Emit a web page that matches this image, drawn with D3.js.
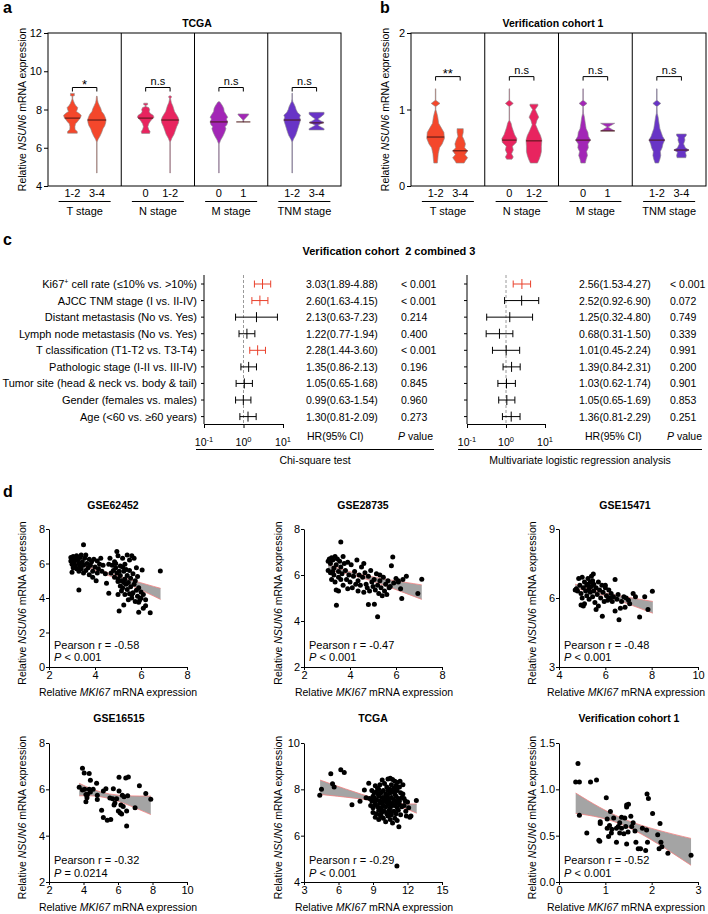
<!DOCTYPE html>
<html><head><meta charset="utf-8">
<script src="https://cdn.jsdelivr.net/npm/d3@7"></script>
<style>body{margin:0;background:#fff}svg{display:block}</style>
</head><body><script>
// ---------------- DATA ----------------
const violinGroups = ["T stage","N stage","M stage","TNM stage"];
const violinCats = [["1-2","3-4"],["0","1-2"],["0","1"],["1-2","3-4"]];
const tcgaTicks = [4,6,8,10,12];
const tcgaSig = ["*","n.s","n.s","n.s"];
const tcgaMedians = [7.55,7.45,7.55,7.45,7.35,7.35,7.45,7.3];
// violin profiles: [value, relative density]
const tcgaT12 = [[6.76,0.55],[6.85,0.55],[6.95,0.3],[7.1,0.28],[7.25,0.35],[7.35,0.55],[7.5,0.8],[7.6,0.95],[7.7,1.0],[7.8,0.75],[7.9,0.45],[8.0,0.55],[8.1,0.6],[8.2,0.4],[8.3,0.25],[8.45,0.12],[8.55,0.04],[8.7,0.04],[8.72,0.22],[8.84,0.22]];
const tcgaT34 = [[4.68,0.03],[6.3,0.03],[6.45,0.15],[6.6,0.35],[6.8,0.55],[7.0,0.7],[7.15,0.9],[7.3,1.0],[7.45,1.05],[7.6,0.95],[7.75,0.8],[7.9,0.55],[8.05,0.45],[8.2,0.3],[8.35,0.15],[8.5,0.08],[8.65,0.05],[8.7,0.03]];
const tcgaN0 = [[6.75,0.45],[6.85,0.5],[6.95,0.35],[7.1,0.25],[7.25,0.35],[7.4,0.55],[7.5,0.75],[7.6,0.95],[7.7,0.85],[7.8,0.5],[7.9,0.4],[8.0,0.45],[8.1,0.35],[8.15,0.05],[8.22,0.04],[8.25,0.22],[8.33,0.22]];
const tcgaN12 = [[4.68,0.03],[6.3,0.03],[6.5,0.2],[6.7,0.45],[6.9,0.6],[7.1,0.75],[7.3,0.95],[7.45,1.0],[7.6,0.9],[7.75,0.7],[7.9,0.5],[8.05,0.4],[8.2,0.3],[8.35,0.15],[8.5,0.08],[8.6,0.05],[8.66,0.2],[8.72,0.03]];
const tcgaM0 = [[4.68,0.03],[6.2,0.03],[6.4,0.2],[6.6,0.45],[6.8,0.65],[7.0,0.8],[7.1,0.7],[7.2,0.9],[7.35,1.0],[7.5,0.85],[7.6,1.0],[7.75,0.8],[7.9,0.6],[8.05,0.55],[8.2,0.4],[8.3,0.25],[8.4,0.1]];
const tcgaM1 = [[7.35,0.05],[7.45,0.05],[7.6,0.35],[7.72,0.6],[7.77,0.6]];
const tcgaTNM12 = [[4.68,0.03],[6.3,0.03],[6.45,0.15],[6.65,0.4],[6.85,0.55],[7.0,0.65],[7.15,0.75],[7.3,0.85],[7.45,0.95],[7.6,0.85],[7.7,0.95],[7.85,0.6],[8.0,0.45],[8.15,0.35],[8.3,0.2],[8.4,0.08],[8.55,0.03],[8.85,0.03]];
const tcgaTNM34 = [[6.93,0.85],[7.0,0.85],[7.1,0.45],[7.18,0.15],[7.26,0.5],[7.33,0.85],[7.4,0.5],[7.5,0.15],[7.6,0.45],[7.75,0.85],[7.85,0.85]];

const cohortTicks = [0,1,2];
const cohortSig = ["**","n.s","n.s","n.s"];
const cohortMedians = [0.64,0.46,0.6,0.59,0.6,0.72,0.6,0.47];
const cohT12 = [[0.3,0.2],[0.35,0.25],[0.42,0.3],[0.5,0.45],[0.55,0.75],[0.62,1.0],[0.7,0.95],[0.76,0.65],[0.82,0.35],[0.9,0.25],[0.95,0.15],[1.0,0.03],[1.04,0.03],[1.08,0.5],[1.12,0.03],[1.27,0.03]];
const cohT34 = [[0.3,0.45],[0.33,0.6],[0.37,0.85],[0.41,0.55],[0.46,0.85],[0.5,0.5],[0.55,0.6],[0.6,0.45],[0.65,0.25],[0.7,0.35],[0.75,0.35]];
const cohN0 = [[0.35,0.3],[0.38,0.45],[0.42,0.25],[0.47,0.45],[0.52,0.35],[0.57,0.8],[0.62,0.85],[0.67,0.6],[0.72,0.45],[0.77,0.3],[0.82,0.2],[0.86,0.03],[1.04,0.03],[1.08,0.45],[1.12,0.03],[1.27,0.03]];
const cohN12 = [[0.3,0.4],[0.35,0.6],[0.4,0.75],[0.45,0.85],[0.52,0.85],[0.6,0.9],[0.66,0.75],[0.72,0.5],[0.8,0.2],[0.86,0.35],[0.9,0.55],[0.95,0.35],[1.0,0.15],[1.05,0.45],[1.07,0.45]];
const cohM0 = [[0.3,0.25],[0.35,0.35],[0.4,0.5],[0.45,0.4],[0.5,0.6],[0.55,0.55],[0.6,0.85],[0.65,0.6],[0.7,0.55],[0.75,0.35],[0.82,0.25],[0.9,0.15],[0.95,0.05],[1.04,0.03],[1.08,0.45],[1.12,0.03],[1.27,0.03]];
const cohM1 = [[0.72,0.8],[0.74,0.5],[0.77,0.05],[0.8,0.5],[0.82,0.8]];
const cohTNM12 = [[0.3,0.2],[0.35,0.35],[0.4,0.45],[0.45,0.4],[0.5,0.6],[0.55,0.7],[0.6,0.9],[0.65,0.65],[0.7,0.5],[0.75,0.35],[0.82,0.25],[0.9,0.15],[0.95,0.05],[1.04,0.03],[1.08,0.45],[1.12,0.03],[1.27,0.03]];
const cohTNM34 = [[0.37,0.5],[0.4,0.55],[0.44,0.45],[0.47,0.85],[0.5,0.45],[0.55,0.25],[0.6,0.4],[0.63,0.35],[0.66,0.55],[0.68,0.55]];

const forestLabels = ["Ki67+ cell rate (≤10% vs. >10%)","AJCC TNM stage (I vs. II-IV)","Distant metastasis (No vs. Yes)","Lymph node metastasis (No vs. Yes)","T classification (T1-T2 vs. T3-T4)","Pathologic stage (I-II vs. III-IV)","Tumor site (head & neck vs. body & tail)","Gender (females vs. males)","Age (<60 vs. ≥60 years)"];
const chiHR = [3.03,2.60,2.13,1.22,2.28,1.35,1.05,0.99,1.30];
const chiLo = [1.89,1.63,0.63,0.77,1.44,0.86,0.65,0.63,0.81];
const chiHi = [4.88,4.15,7.23,1.94,3.60,2.13,1.68,1.54,2.09];
const chiP = ["< 0.001","< 0.001","0.214","0.400","< 0.001","0.196","0.845","0.960","0.273"];
const mlrHR = [2.56,2.52,1.25,0.68,1.01,1.39,1.03,1.05,1.36];
const mlrLo = [1.53,0.92,0.32,0.31,0.45,0.84,0.62,0.65,0.81];
const mlrHi = [4.27,6.90,4.80,1.50,2.24,2.31,1.74,1.69,2.29];
const mlrP = ["< 0.001","0.072","0.749","0.339","0.991","0.200","0.901","0.853","0.251"];
const forestTicks = [0.1,1,10];
const forestTickExp = ["-1","0","1"];

const scatterTitles = ["GSE62452","GSE28735","GSE15471","GSE16515","TCGA","Verification cohort 1"];
const scatterXDomains = [[2,8],[2,8],[4,10],[2,10],[3,15],[0,3]];
const scatterXTicks = [[2,4,6,8],[2,4,6,8],[4,6,8,10],[2,4,6,8,10],[3,6,9,12,15],[0,1,2,3]];
const scatterYDomains = [[0,8],[2,8],[3,9],[2,8],[4,10],[0,1.5]];
const scatterYTicks = [[0,2,4,6,8],[2,4,6,8],[3,6,9],[2,4,6,8],[4,6,8,10],[0,0.5,1,1.5]];
const pearsonR = ["-0.58","-0.47","-0.48","-0.32","-0.29","-0.52"];
const pearsonP = ["< 0.001","< 0.001","< 0.001","= 0.0214","< 0.001","< 0.001"];

const gse62452Pts = [[2.95,6.35],[2.95,6.15],[3.0,5.95],[3.05,6.4],[3.1,6.25],[3.1,6.05],[3.15,5.85],[3.2,6.45],[3.2,5.7],[3.25,6.2],[3.3,6.0],[3.3,5.55],[3.35,6.35],[3.35,5.85],[3.4,6.5],[3.4,5.7],[3.45,6.1],[3.5,7.08],[3.5,5.9],[3.5,5.45],[3.55,6.3],[3.6,5.6],[3.65,6.0],[3.7,5.75],[3.75,6.25],[3.75,5.35],[3.8,5.9],[3.85,6.1],[3.9,5.55],[3.9,5.2],[3.95,6.25],[4.0,5.8],[4.05,5.0],[4.1,6.15],[4.1,5.45],[4.15,5.7],[4.2,5.95],[4.25,6.3],[4.3,5.55],[4.35,5.9],[3.3,4.47],[4.5,4.85],[4.45,5.4],[4.6,4.27],[3.05,5.75],[3.6,6.5],[3.0,5.5],
[4.75,5.9],[4.8,5.6],[4.85,6.1],[4.85,5.2],[4.9,6.0],[4.9,5.75],[4.95,5.45],[4.95,6.7],[5.0,5.1],[5.0,4.95],[5.0,6.45],[5.05,5.55],[5.05,3.24],[5.1,5.3],[5.1,4.7],[5.1,5.85],[5.15,4.4],[5.15,5.0],[5.2,6.3],[5.2,4.6],[5.25,5.55],[5.25,3.6],[5.3,5.1],[5.3,4.2],[5.3,5.95],[5.35,4.8],[5.4,6.5],[5.4,5.3],[5.4,4.5],[5.45,4.9],[5.45,3.9],[5.5,6.2],[5.5,5.6],[5.5,4.25],[5.55,4.65],[5.55,5.15],[5.6,6.45],[5.6,4.0],[5.65,5.4],[5.65,4.3],[5.7,4.8],[5.7,6.3],[5.75,3.8],[5.75,5.0],[5.8,4.45],[5.8,5.75],[5.85,4.1],[5.9,3.75],[5.9,3.17],[5.9,4.6],[5.95,3.9],[6.0,4.35],[6.0,4.0],[6.05,5.63],[6.1,3.4],[6.1,4.2],[6.2,3.55],[6.2,3.9],[6.4,3.15],[6.84,5.57],[4.6,5.95],[4.7,5.45],[4.65,6.3],[5.35,5.65],[5.2,5.8],[5.0,4.2],[5.25,4.9],[5.6,4.2],[5.85,5.25]];
const gse62452Band = [[2.9,6.12,6.33],[4.6,5.3,5.45],[6.85,3.92,4.56]];

const gse28735Pts = [[3.05,6.2],[3.05,6.6],[3.1,6.7],[3.15,6.5],[3.15,6.1],[3.2,6.75],[3.2,5.8],[3.25,6.65],[3.3,6.3],[3.3,6.0],[3.35,6.8],[3.35,5.7],[3.4,6.45],[3.4,5.35],[3.41,4.69],[3.45,6.7],[3.5,6.15],[3.5,5.9],[3.55,6.6],[3.6,7.43],[3.6,6.35],[3.6,5.8],[3.65,6.05],[3.7,6.8],[3.7,5.55],[3.75,6.5],[3.8,6.2],[3.85,5.8],[3.9,6.55],[3.95,6.0],[4.0,5.7],[4.05,6.45],[4.1,5.45],[4.15,5.95],[4.2,6.15],[4.25,5.6],[4.3,6.65],[4.35,5.75],[4.35,5.3],[4.4,6.0],[4.45,5.55],[4.5,6.35],[4.55,5.9],[4.6,5.25],[4.65,6.1],[4.7,5.6],[4.75,5.45],[4.8,4.72],[4.8,5.95],[4.85,5.3],[4.9,6.2],[4.95,5.7],[5.0,5.5],[5.05,5.8],[5.06,4.73],[5.1,5.35],[5.15,6.05],[5.2,4.18],[5.2,5.55],[5.25,5.2],[5.3,5.75],[5.35,5.45],[5.4,5.1],[5.45,5.9],[5.5,5.3],[5.55,5.6],[5.6,5.15],[5.65,5.75],[5.7,5.45],[5.75,5.5],[5.8,6.4],[5.86,6.78],[5.9,5.65],[6.0,5.85],[6.1,5.7],[6.2,5.4],[6.25,4.98],[6.3,5.8],[6.45,5.95],[6.95,5.2],[7.12,5.81],[3.9,5.4],[4.6,6.5],[5.3,6.0],[3.25,6.15],[3.5,5.3],[6.1,5.75]];
const gse28735Band = [[3.05,6.2,6.45],[4.6,5.85,6.0],[7.12,4.94,5.57]];

const gse15471Pts = [[4.75,6.4],[4.8,6.3],[4.85,6.85],[4.9,6.55],[4.95,5.7],[4.95,6.2],[5.0,6.9],[5.0,6.0],[5.05,6.45],[5.1,6.7],[5.1,5.75],[5.15,6.3],[5.2,6.55],[5.2,6.1],[5.25,6.85],[5.25,6.6],[5.3,6.4],[5.3,5.95],[5.35,6.7],[5.35,6.25],[5.4,6.95],[5.4,6.5],[5.45,6.05],[5.48,7.04],[5.5,6.6],[5.5,6.3],[5.55,5.8],[5.6,6.45],[5.65,6.15],[5.7,6.7],[5.7,5.65],[5.75,6.35],[5.8,6.0],[5.85,6.55],[5.87,5.21],[5.9,6.25],[5.95,5.85],[6.0,6.45],[6.05,6.1],[6.1,5.9],[6.15,6.35],[6.2,6.0],[6.25,6.2],[6.3,5.85],[6.35,6.05],[6.42,6.8],[6.42,5.43],[6.5,5.95],[6.55,6.15],[6.59,5.05],[6.65,5.55],[6.7,5.85],[6.8,6.05],[6.85,5.6],[6.9,6.0],[7.0,5.9],[7.05,5.75],[7.2,6.2],[7.3,6.05],[7.48,5.17],[7.7,6.05],[7.84,5.5],[8.03,6.29],[5.6,5.5],[5.05,5.65],[6.0,6.55],[5.45,6.75],[4.7,6.35]];
const gse15471Band = [[4.7,6.4,6.6],[5.9,6.12,6.24],[8.05,5.34,5.85]];

const gse16515Pts = [[3.94,6.91],[4.04,6.7],[4.33,6.68],[4.4,6.39],[3.75,6.09],[4.07,6.0],[4.33,6.0],[4.76,6.26],[4.14,5.46],[5.05,5.1],[5.15,4.78],[5.38,4.67],[5.58,4.7],[6.06,6.52],[6.45,6.49],[6.6,6.53],[7.24,6.16],[7.61,5.82],[7.9,5.57],[6.99,5.2],[6.5,4.42],[5.73,6.03],[5.92,5.59],[6.06,5.93],[6.25,5.74],[6.35,5.68],[6.17,5.32],[6.02,5.07],[5.77,5.32],[6.5,5.07],[4.4,5.88],[4.23,5.78],[4.56,6.0],[4.8,5.75],[4.8,5.56],[5.3,6.03],[5.15,5.93],[5.53,5.63],[5.82,5.41],[6.12,4.99],[6.21,4.93],[6.56,5.72],[4.14,5.78],[3.94,5.97],[4.2,5.64],[5.69,5.59],[6.3,5.26]];
const gse16515Band = [[3.75,5.72,6.26],[5.5,5.6,5.8],[7.9,4.91,5.71]];

const tcgaScatterPts = [[4.37,7.74],[4.52,8.0],[5.33,8.67],[5.48,8.24],[5.62,8.1],[6.2,8.84],[6.5,8.73],[7.17,7.33],[7.87,7.49],[8.25,7.97],[8.4,7.64],[8.63,8.26],[11.08,4.69],[12.77,7.52],[11.25,6.39],
[10.3,8.45],[10.5,8.48],[10.7,8.42],[10.9,8.35],[11.1,8.3],[9.8,8.4],[11.35,8.35],[11.6,8.2],
[9.2,8.15],[9.6,8.2],[10.0,8.25],[10.2,8.1],[10.6,8.2],[11.0,8.15],[11.3,8.1],[9.4,8.05],[10.8,8.05],
[8.9,7.95],[9.1,7.85],[9.3,7.9],[9.5,8.0],[9.7,7.85],[9.9,7.95],[10.1,7.8],[10.3,7.95],[10.5,7.85],[10.7,7.9],[10.9,7.8],[11.1,7.95],[11.4,7.85],[11.6,7.8],[9.0,7.7],[11.7,7.6],
[8.7,7.6],[8.9,7.5],[9.1,7.65],[9.3,7.55],[9.5,7.7],[9.6,7.5],[9.8,7.65],[10.0,7.55],[10.1,7.7],[10.3,7.6],[10.4,7.5],[10.6,7.65],[10.8,7.55],[11.0,7.7],[11.2,7.6],[11.3,7.5],[11.5,7.65],[11.8,7.5],[12.0,7.45],[9.2,7.4],[10.2,7.45],
[8.8,7.3],[9.0,7.2],[9.2,7.35],[9.4,7.25],[9.6,7.4],[9.7,7.2],[9.9,7.3],[10.1,7.25],[10.3,7.35],[10.5,7.2],[10.7,7.4],[10.9,7.3],[11.1,7.2],[11.3,7.35],[11.5,7.25],[11.7,7.3],[12.1,7.2],[9.5,7.1],[10.0,7.05],
[9.0,7.0],[9.3,6.95],[9.6,6.9],[9.8,7.1],[10.2,6.95],[10.4,7.1],[10.6,6.9],[10.8,7.05],[11.0,6.95],[11.2,7.1],[11.4,6.9],[11.9,6.85],[12.2,6.8],[10.3,6.85],[11.85,7.05],[12.3,6.85],
[9.2,6.8],[9.5,6.7],[9.9,6.75],[10.1,6.6],[10.5,6.7],[10.7,6.55],[10.9,6.75],[11.1,6.65],[9.7,6.85],
[9.45,7.8],[9.85,7.45],[10.25,7.75],[10.65,7.3],[11.05,7.45],[10.45,8.0],[9.75,7.0],[10.95,8.0],[9.15,7.55],[10.55,7.0]];
const tcgaScatterBand = [[4.4,7.78,8.4],[9.8,7.44,7.53],[12.8,6.97,7.37]];

const cohortPts = [[0.41,1.28],[0.36,1.08],[0.44,1.08],[0.68,1.08],[0.81,1.1],[0.44,0.72],[0.6,0.53],[0.86,0.45],[0.88,0.44],[0.89,0.63],[0.89,0.65],[1.02,0.91],[1.04,0.68],[1.04,0.58],[1.11,0.76],[1.09,0.61],[1.07,0.49],[1.13,0.53],[1.18,0.69],[1.14,0.57],[1.24,0.43],[1.28,0.6],[1.31,0.64],[1.35,0.7],[1.4,0.52],[1.42,0.69],[1.46,0.81],[1.46,0.83],[1.5,0.84],[1.44,0.6],[1.46,0.41],[1.55,0.71],[1.57,0.6],[1.6,0.64],[1.64,0.55],[1.66,0.43],[1.71,0.36],[1.76,0.36],[1.8,0.58],[1.9,0.95],[1.93,0.9],[1.89,0.56],[1.91,0.43],[1.87,0.34],[2.02,0.74],[2.13,0.51],[2.18,0.63],[2.2,0.43],[2.22,0.38],[2.16,0.36],[2.35,0.31],[2.85,0.29],[1.24,0.58],[1.35,0.58],[1.49,0.54],[1.31,0.53]];
const cohortBand = [[0.36,0.74,0.96],[1.45,0.6,0.67],[2.85,0.18,0.47]];

// ---------------- STYLE / SETUP ----------------
const FONT = '"Liberation Sans", Arial, Helvetica, sans-serif';
const groupColors = ["#f4472b","#e8245f","#a226b6","#6834c6"];
const RED = "#e9402b";
const svg = d3.select("body").append("svg").attr("width",708).attr("height",914)
  .style("font-family",FONT);

function rich(t, parts){ parts.forEach(p=>{ const s=t.append("tspan").text(p[0]); if(p[1]) s.attr("font-style","italic"); }); return t; }
function txt(x,y,s,size,anchor,weight){ return svg.append("text").attr("x",x).attr("y",y).attr("font-size",size).attr("text-anchor",anchor||"start").attr("font-weight",weight||null).attr("fill","#000").text(s); }
function vlabel(xc,yc,parts,size){ const t=svg.append("text").attr("transform",`translate(${xc+4},${yc}) rotate(-90)`).attr("text-anchor","middle").attr("font-size",size); rich(t,parts); return t; }
function densAt(prof,v){ for(let i=0;i<prof.length-1;i++){const a=prof[i],b=prof[i+1]; if(v>=a[0]&&v<=b[0]) return a[1]+(b[1]-a[1])*(v-a[0])/((b[0]-a[0])||1);} return 0; }

// panel letters
txt(3,13,"a",16,"start","bold");
txt(380,13,"b",16,"start","bold");
txt(3,245,"c",16,"start","bold");
txt(3,497,"d",16,"start","bold");

// ---------------- VIOLIN PANELS ----------------
function violinPanel(o){
  const g = svg.append("g");
  const y = d3.scaleLinear().domain(o.domain).range([o.y1,o.y0]);
  const gx = d3.scaleBand().domain(violinGroups).range([o.x0,o.x1]);
  const w = d3.scaleLinear().domain([0,1]).range([0,8.8]);
  const ax = g.append("g").attr("transform",`translate(${o.x0},0)`)
    .call(d3.axisLeft(y).tickValues(o.ticks).tickSize(4).tickPadding(2).tickFormat(d3.format("d")));
  ax.select(".domain").remove();
  ax.selectAll("line").attr("stroke","#000");
  ax.selectAll("text").attr("font-size",11).attr("font-family",FONT).attr("fill","#000");
  violinGroups.forEach((grp,i)=>{
    const bx = gx(grp), bw = gx.bandwidth();
    if(i>0) g.append("line").attr("x1",bx).attr("x2",bx).attr("y1",o.y0).attr("y2",o.y1).attr("stroke","#000");
    const px = d3.scalePoint().domain(violinCats[i]).range([bx,bx+bw]).padding(1);
    violinCats[i].forEach((c,j)=>{
      const k=i*2+j, prof=o.profiles[k], cx=px(c);
      const area = d3.area().y(d=>y(d[0])).x0(d=>cx-w(d[1])).x1(d=>cx+w(d[1]));
      g.append("path").attr("d",area(prof)).attr("fill",groupColors[i]).attr("stroke","#8c8c8c").attr("stroke-width",0.6);
      const m=o.medians[k], hw=w(Math.max(densAt(prof,m),0.8));
      g.append("line").attr("x1",cx-hw).attr("x2",cx+hw).attr("y1",y(m)).attr("y2",y(m)).attr("stroke","#4a1515").attr("stroke-width",1);
      g.append("text").attr("x",cx).attr("y",o.y1+11).attr("text-anchor","middle").attr("font-size",11).text(c);
    });
    const cm = bx+bw/2;
    g.append("line").attr("x1",cm-26).attr("x2",cm+26).attr("y1",o.y1+15.5).attr("y2",o.y1+15.5).attr("stroke","#000");
    g.append("text").attr("x",cm).attr("y",o.y1+29).attr("text-anchor","middle").attr("font-size",11).text(grp);
    const c1=px(violinCats[i][0]), c2=px(violinCats[i][1]), by=y(o.bracketVal);
    g.append("path").attr("d",`M${c1},${by+4}V${by}H${c2}V${by+4}`).attr("fill","none").attr("stroke","#000");
    g.append("text").attr("x",(c1+c2)/2).attr("y",by-(o.sig[i].startsWith("*")?-1:3)).attr("text-anchor","middle")
      .attr("font-size",o.sig[i].startsWith("*")?13:11).text(o.sig[i]);
  });
  g.append("rect").attr("x",o.x0).attr("y",o.y0).attr("width",o.x1-o.x0).attr("height",o.y1-o.y0).attr("fill","none").attr("stroke","#000");
  txt(o.titleX,27,o.title,10.5,"middle","bold");
  vlabel(o.ylabX,(o.y0+o.y1)/2,[["Relative ",0],["NSUN6",1],[" mRNA expression",0]],10.5);
}
violinPanel({x0:48,x1:341,y0:33,y1:186,domain:[4,12],ticks:tcgaTicks,bracketVal:9.15,sig:tcgaSig,
  profiles:[tcgaT12,tcgaT34,tcgaN0,tcgaN12,tcgaM0,tcgaM1,tcgaTNM12,tcgaTNM34],medians:tcgaMedians,
  title:"TCGA",titleX:197,ylabX:22});
violinPanel({x0:411,x1:706,y0:33,y1:186,domain:[0,2],ticks:cohortTicks,bracketVal:1.43,sig:cohortSig,
  profiles:[cohT12,cohT34,cohN0,cohN12,cohM0,cohM1,cohTNM12,cohTNM34],medians:cohortMedians,
  title:"Verification cohort 1",titleX:553,ylabX:385});

// ---------------- FOREST PANELS ----------------
txt(389,255,"Verification cohort  2 combined 3",11,"middle","bold").style("white-space","pre");
const fy = d3.scalePoint().domain(forestLabels).range([284,416.6]);
forestLabels.forEach(l=>{
  const t = svg.append("text").attr("x",197).attr("y",fy(l)+4).attr("text-anchor","end").attr("font-size",11);
  if(l.startsWith("Ki67+")){
    t.append("tspan").text("Ki67");
    t.append("tspan").attr("font-size",7).attr("dy",-4).text("+");
    t.append("tspan").attr("dy",4).text(l.slice(5));
  } else t.text(l);
});
const fmt2 = d3.format(".2f");
function forest(o){
  const g = svg.append("g");
  const x = d3.scaleLog().domain([0.1,10]).range([o.ax0,o.ax1]);
  g.append("line").attr("x1",o.ax0).attr("x2",o.ax0).attr("y1",275).attr("y2",424).attr("stroke","#000");
  forestLabels.forEach(l=>g.append("line").attr("x1",o.ax0-3).attr("x2",o.ax0).attr("y1",fy(l)).attr("y2",fy(l)).attr("stroke","#000"));
  const xa = g.append("g").attr("transform","translate(0,424)")
    .call(d3.axisBottom(x).tickValues(forestTicks).tickSize(4).tickSizeOuter(0).tickFormat(""));
  xa.selectAll("line,path").attr("stroke","#000");
  forestTicks.forEach((v,i)=>{
    const t = g.append("text").attr("x",x(v)).attr("y",446).attr("text-anchor","middle").attr("font-size",10.5);
    t.append("tspan").text("10");
    t.append("tspan").attr("dy",-4).attr("font-size",7.5).text(forestTickExp[i]);
  });
  g.append("line").attr("x1",x(1)).attr("x2",x(1)).attr("y1",275).attr("y2",424).attr("stroke","#9a9a9a").attr("stroke-dasharray","3,2");
  forestLabels.forEach((l,i)=>{
    const yy=fy(l), col=o.p[i]==="< 0.001"?RED:"#000";
    g.append("line").attr("x1",x(o.lo[i])).attr("x2",x(o.hi[i])).attr("y1",yy).attr("y2",yy).attr("stroke",col);
    [o.lo[i],o.hi[i]].forEach(v=>g.append("line").attr("x1",x(v)).attr("x2",x(v)).attr("y1",yy-3.5).attr("y2",yy+3.5).attr("stroke",col));
    g.append("line").attr("x1",x(o.hr[i])).attr("x2",x(o.hr[i])).attr("y1",yy-5).attr("y2",yy+5).attr("stroke",col);
    g.append("text").attr("x",o.hrX).attr("y",yy+4).attr("font-size",10.5).text(`${fmt2(o.hr[i])}(${fmt2(o.lo[i])}-${fmt2(o.hi[i])})`);
    g.append("text").attr("x",o.pX).attr("y",yy+4).attr("font-size",10.5).text(o.p[i]);
  });
  g.append("text").attr("x",o.hrHeadX).attr("y",440).attr("font-size",10.5).text("HR(95% CI)");
  rich(g.append("text").attr("x",o.pHeadX).attr("y",440).attr("font-size",10.5),[["P",1],[" value",0]]);
  g.append("line").attr("x1",o.lx0).attr("x2",o.lx1).attr("y1",449.5).attr("y2",449.5).attr("stroke","#000");
  g.append("text").attr("x",(o.lx0+o.lx1)/2).attr("y",464).attr("text-anchor","middle").attr("font-size",10.5).text(o.caption);
}
forest({ax0:204,ax1:283,hr:chiHR,lo:chiLo,hi:chiHi,p:chiP,hrX:306,pX:401,hrHeadX:307,pHeadX:398,lx0:196,lx1:434,caption:"Chi-square test"});
forest({ax0:467,ax1:545,hr:mlrHR,lo:mlrLo,hi:mlrHi,p:mlrP,hrX:579,pX:670,hrHeadX:585,pHeadX:667,lx0:458,lx1:702,caption:"Multivariate logistic regression analysis"});

// ---------------- SCATTER PANELS ----------------
const scatterPts = [gse62452Pts,gse28735Pts,gse15471Pts,gse16515Pts,tcgaScatterPts,cohortPts];
const scatterBands = [gse62452Band,gse28735Band,gse15471Band,gse16515Band,tcgaScatterBand,cohortBand];
const colLayout = [{px0:49,px1:187,ylab:22,stat:54,xlab:118},{px0:304,px1:442,ylab:278,stat:309,xlab:374},{px0:559,px1:698,ylab:532,stat:564,xlab:626}];
const rowLayout = [{py0:529,py1:667,title:509,s1:649,s2:661,xlab:696},{py0:743,py1:882,title:722,s1:864,s2:877,xlab:911}];
const titleXs = [113,363,625,119,373,629];
scatterTitles.forEach((title,k)=>{
  const c=colLayout[k%3], r=rowLayout[Math.floor(k/3)];
  const g = svg.append("g");
  const x = d3.scaleLinear().domain(scatterXDomains[k]).range([c.px0,c.px1]);
  const y = d3.scaleLinear().domain(scatterYDomains[k]).range([r.py1,r.py0]);
  const band = scatterBands[k];
  g.append("path").attr("d",d3.area().x(d=>x(d[0])).y0(d=>y(d[1])).y1(d=>y(d[2])).curve(d3.curveNatural)(band)).attr("fill","#a4a4a4");
  [1,2].forEach(j=>g.append("path").attr("d",d3.line().x(d=>x(d[0])).y(d=>y(d[j])).curve(d3.curveNatural)(band)).attr("fill","none").attr("stroke","#f28080").attr("stroke-width",0.8));
  g.selectAll("circle").data(scatterPts[k]).join("circle").attr("cx",d=>x(d[0])).attr("cy",d=>y(d[1])).attr("r",2.5).attr("fill","#000");
  const yf = k===5?d3.format(".1f"):d3.format("d");
  const ay = g.append("g").attr("transform",`translate(${c.px0},0)`).call(d3.axisLeft(y).tickValues(scatterYTicks[k]).tickSize(3).tickSizeOuter(0).tickPadding(1).tickFormat(yf));
  const axx = g.append("g").attr("transform",`translate(0,${r.py1})`).call(d3.axisBottom(x).tickValues(scatterXTicks[k]).tickSize(3).tickSizeOuter(0).tickPadding(1).tickFormat(d3.format("d")));
  [ay,axx].forEach(a=>{a.selectAll("line,path").attr("stroke","#000"); a.selectAll("text").attr("font-size",11).attr("font-family",FONT).attr("fill","#000");});
  txt(titleXs[k],r.title,title,10.5,"middle","bold");
  txt(c.stat,r.s1,"Pearson r = "+pearsonR[k],11);
  rich(svg.append("text").attr("x",c.stat).attr("y",r.s2).attr("font-size",11),[["P",1],[" "+pearsonP[k],0]]);
  rich(svg.append("text").attr("x",c.xlab).attr("y",r.xlab).attr("text-anchor","middle").attr("font-size",10.5),[["Relative ",0],["MKI67",1],[" mRNA expression",0]]);
  vlabel(c.ylab,(r.py0+r.py1)/2+5,[["Relative ",0],["NSUN6",1],[" mRNA expression",0]],10.5);
});
</script></body></html>
